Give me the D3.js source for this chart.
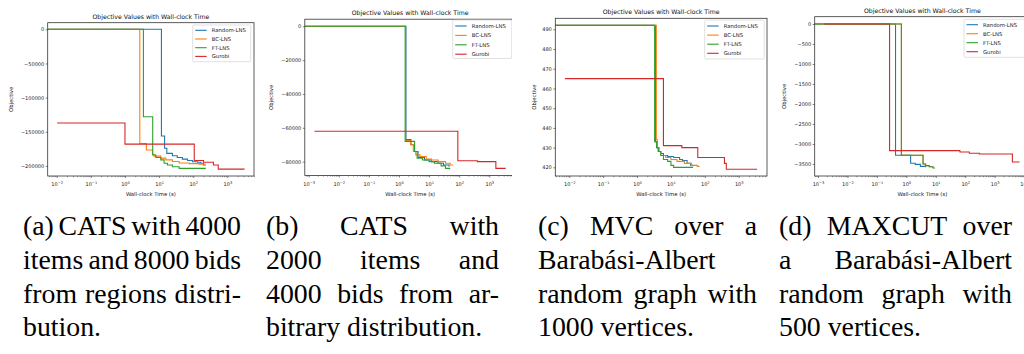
<!DOCTYPE html>
<html><head><meta charset="utf-8">
<script src="https://cdn.jsdelivr.net/npm/d3@7"></script>
<style>body{margin:0;background:#fff}svg{display:block}.cap text{font-family:"Liberation Serif","Times New Roman",serif}</style>
</head><body>
<svg id="chart" width="1024" height="354"></svg>
<script>
const seriesNames = ["Random-LNS", "BC-LNS", "FT-LNS", "Gurobi"];
const seriesColors = ["#1f77b4", "#ff7f0e", "#2ca02c", "#d62728"];
const chartTitle = "Objective Values with Wall-clock Time";
const xLabel = "Wall-clock Time (s)";
const yLabel = "Objective";

// (a) CATS 4000 items / 8000 bids  — [time (s), objective]
const aRandom = [[0,0],[11.7,-156000],[14.5,-174000],[16.8,-181500],[24.5,-185000],[34,-187500],[48,-190000],[68,-192000],[95,-193700],[132,-194600],[166,-196000],[200,-198500],[234,-198500]];
const aBC = [[0,0],[2.72,-167000],[4.25,-176500],[6.37,-183000],[7.1,-185500],[11.2,-188500],[15.7,-191000],[24.5,-193500],[38.5,-195500],[76,-196500],[150,-197500],[230,-197500]];
const aFT = [[0,0],[3.47,-128000],[6.5,-184000],[8,-187500],[11.2,-191000],[14,-196000],[17.5,-198500],[24.5,-201000],[38.5,-203500],[234,-203500]];
const aGurobi = [[0.0103,-137000],[1.0,-168000],[107,-192000],[200,-194500],[390,-198500],[540,-204500],[3200,-204500]];
const aXDomain = [0.00545, 6026];
const aYDomain = [-214630, 9656];
const aXTicks = [1e-2, 1e-1, 1, 1e1, 1e2, 1e3];
const aYTicks = [0, -50000, -100000, -150000, -200000];

// (b) CATS 2000 items / 4000 bids
const bRandom = [[0,0],[1.7,-67000],[2.5,-70000],[3.2,-74000],[4.3,-77500],[7,-79000],[12,-80000],[20,-81000],[30,-82000],[46,-83000]];
const bBC = [[0,0],[1.65,-67500],[2.4,-70000],[3.0,-74000],[3.6,-76000],[5,-77000],[8,-78500],[12,-79000],[20,-80000],[35,-81000],[50,-82000],[63,-82000]];
const bFT = [[0,0],[1.6,-68000],[3.3,-74000],[4,-78000],[6,-79000],[10,-80000],[15,-81000],[25,-82500],[35,-84000],[48,-84500]];
const bGurobi = [[0.00155,-62000],[90,-79500],[400,-80000],[1650,-84000],[3500,-84000]];
const bXDomain = [0.000741, 7413];
const bYDomain = [-88200, 4200];
const bXTicks = [1e-3, 1e-2, 1e-1, 1, 1e1, 1e2, 1e3];
const bYTicks = [0, -20000, -40000, -60000, -80000];

// (c) MVC, Barabási-Albert 1000 vertices
const cRandom = [[0,492],[3.5,433],[3.8,430],[4.3,428],[5,427],[6,426],[8,425.5],[12,425],[18,424],[22,423.5],[30,422],[38,421],[45,420.5]];
const cBC = [[0,492],[3.7,434],[4,430],[4.5,428],[5,426],[7,425],[10,424],[15,423],[25,422],[40,421],[60,420.5],[70,420.5]];
const cFT = [[0,492],[3.3,433],[3.8,430],[4.2,428],[5,426],[6,424],[8,423],[10,421],[12,420],[45,420]];
const cGurobi = [[0.0074,465],[6.0,431],[21,430],[62,425],[380,422],[430,419],[3500,419]];
const cXDomain = [0.003864, 6839];
const cYDomain = [415.6, 495.6];
const cXTicks = [1e-2, 1e-1, 1, 1e1, 1e2, 1e3];
const cYTicks = [420, 430, 440, 450, 460, 470, 480, 490];

// (d) MAXCUT, Barabási-Albert 500 vertices
const dRandom = [[0,0],[0.43,-3280],[1.4,-3480],[2,-3510],[3,-3560],[4.5,-3580]];
const dBC = [[0,0],[0.68,-3280],[3.7,-3500],[4.5,-3540],[6,-3570],[8.5,-3570]];
const dFT = [[0,0],[0.68,-3280],[3.7,-3500],[4.5,-3540],[6,-3570],[8,-3600],[9.5,-3600]];
const dGurobi = [[0.0016,0],[0.27,-3165],[66,-3200],[138,-3230],[300,-3250],[4000,-3450],[7000,-3450]];
const dXDomain = [0.000773, 15849];
const dYDomain = [-3800, 182.5];
const dXTicks = [1e-3, 1e-2, 1e-1, 1, 1e1, 1e2, 1e3, 1e4];
const dYTicks = [0, -500, -1000, -1500, -2000, -2500, -3000, -3500];

// captions
const captionA = ["(a) CATS with 4000", "items and 8000 bids", "from regions distri-", "bution."];
const captionB = ["(b) CATS with", "2000 items and", "4000 bids from ar-", "bitrary distribution."];
const captionC = ["(c) MVC over a", "Barabási-Albert", "random graph with", "1000 vertices."];
const captionD = ["(d) MAXCUT over", "a Barabási-Albert", "random graph with", "500 vertices."];

const panels = [
  {series:[aRandom,aBC,aFT,aGurobi], xDomain:aXDomain, yDomain:aYDomain, xTicks:aXTicks, yTicks:aYTicks, caption:captionA,
   clip:[0,256], left:47.7, right:254, top:22.7, bottom:176, ylabX:11, leg:{x:192.7,y:25,w:58,h:36.7,first:5.3,dy:8.7}, cap:[23,241]},
  {series:[bRandom,bBC,bFT,bGurobi], xDomain:bXDomain, yDomain:bYDomain, xTicks:bXTicks, yTicks:bYTicks, caption:captionB,
   clip:[256,512], left:304.8, right:515.5, top:19.2, bottom:175.5, ylabX:271, leg:{x:452.7,y:20,w:59,h:38.5,first:6,dy:9.4}, cap:[266,499]},
  {series:[cRandom,cBC,cFT,cGurobi], xDomain:cXDomain, yDomain:cYDomain, xTicks:cXTicks, yTicks:cYTicks, caption:captionC,
   clip:[512,768], left:555.3, right:767, top:18.3, bottom:176, ylabX:533.7, leg:{x:704.7,y:20,w:59.6,h:39,first:6,dy:9.1}, cap:[538,757]},
  {series:[dRandom,dBC,dFT,dGurobi], xDomain:dXDomain, yDomain:dYDomain, xTicks:dXTicks, yTicks:dYTicks, caption:captionD,
   clip:[768,1024], left:814.7, right:1030, top:16.7, bottom:176, ylabX:783.7, leg:{x:964,y:19.3,w:62,h:38,first:5.4,dy:9}, cap:[779,1012]}
];

const svg = d3.select("#chart");
const FONT = "DejaVu Sans, sans-serif";
const defs = svg.append("defs");

panels.forEach((p, pi) => {
  const pc = defs.append("clipPath").attr("id", "pc" + pi);
  pc.append("rect").attr("x", p.clip[0]).attr("y", 0).attr("width", p.clip[1] - p.clip[0]).attr("height", 200);
  const fc = defs.append("clipPath").attr("id", "fc" + pi);
  fc.append("rect").attr("x", p.left).attr("y", p.top).attr("width", p.right - p.left).attr("height", p.bottom - p.top);

  const g = svg.append("g").attr("clip-path", `url(#pc${pi})`).style("font-family", FONT);
  const x = d3.scaleLog().domain(p.xDomain).range([p.left, p.right]);
  const y = d3.scaleLinear().domain(p.yDomain).range([p.bottom, p.top]);

  // series
  const line = d3.line()
    .x(d => d[0] <= 0 ? p.left - 5 : x(d[0]))
    .y(d => y(d[1]))
    .curve(d3.curveStepAfter);
  const lg = g.append("g").attr("clip-path", `url(#fc${pi})`);
  p.series.forEach((s, i) => {
    lg.append("path").attr("d", line(s)).attr("fill", "none")
      .attr("stroke", seriesColors[i]).attr("stroke-width", 1.1);
  });

  // frame
  g.append("rect").attr("x", p.left).attr("y", p.top).attr("width", p.right - p.left).attr("height", p.bottom - p.top)
    .attr("fill", "none").attr("stroke", "#333").attr("stroke-width", 0.8);

  // y axis
  const ya = g.append("g").attr("transform", `translate(${p.left},0)`)
    .call(d3.axisLeft(y).tickValues(p.yTicks).tickSize(2).tickSizeOuter(0).tickPadding(1.5).tickFormat(d3.format("d")));
  ya.select(".domain").remove();
  ya.selectAll(".tick line").attr("stroke", "#333").attr("stroke-width", 0.6);
  ya.selectAll(".tick text").attr("font-size", 5).attr("font-family", FONT).attr("fill", "#222");

  // x axis: minor ticks
  const lo = Math.floor(Math.log10(p.xDomain[0])), hi = Math.ceil(Math.log10(p.xDomain[1]));
  const minor = [];
  for (let k = lo; k <= hi; k++) for (let m = 2; m <= 9; m++) {
    const v = m * Math.pow(10, k);
    if (v > p.xDomain[0] && v < p.xDomain[1]) minor.push(v);
  }
  const xm = g.append("g").attr("transform", `translate(0,${p.bottom})`)
    .call(d3.axisBottom(x).tickValues(minor).tickSize(1.2).tickSizeOuter(0).tickFormat(""));
  xm.select(".domain").remove();
  xm.selectAll(".tick line").attr("stroke", "#333").attr("stroke-width", 0.5);

  const xa = g.append("g").attr("transform", `translate(0,${p.bottom})`)
    .call(d3.axisBottom(x).tickValues(p.xTicks).tickSize(2).tickSizeOuter(0).tickPadding(2.5).tickFormat(""));
  xa.select(".domain").remove();
  xa.selectAll(".tick line").attr("stroke", "#333").attr("stroke-width", 0.6);
  xa.selectAll(".tick").each(function(d) {
    const e = Math.round(Math.log10(d));
    const t = d3.select(this).append("text").attr("y", 10.3).attr("fill", "#222")
      .attr("text-anchor", "middle").attr("font-size", 5).attr("font-family", FONT);
    t.append("tspan").text("10");
    t.append("tspan").attr("dy", -2.2).attr("font-size", 3.6).text(e < 0 ? "\u2212" + (-e) : String(e));
  });

  const cx = (p.left + p.right) / 2;
  g.append("text").attr("x", cx).attr("y", p.top - 4.2).attr("text-anchor", "middle")
    .attr("font-size", 6.2).attr("fill", "#111").text(chartTitle);
  g.append("text").attr("x", cx).attr("y", 195.8).attr("text-anchor", "middle")
    .attr("font-size", 5.3).attr("fill", "#111").text(xLabel);
  g.append("text").attr("transform", `translate(${p.ylabX + 1.8},${(p.top + p.bottom) / 2}) rotate(-90)`)
    .attr("text-anchor", "middle").attr("font-size", 5.3).attr("fill", "#111").text(yLabel);

  // legend
  const L = p.leg;
  const leg = g.append("g");
  leg.append("rect").attr("x", L.x).attr("y", L.y).attr("width", L.w).attr("height", L.h).attr("rx", 1.5)
    .attr("fill", "#fff").attr("fill-opacity", 0.8).attr("stroke", "#ccc").attr("stroke-width", 0.6);
  seriesNames.forEach((n, i) => {
    const yy = L.y + L.first + i * L.dy;
    leg.append("line").attr("x1", L.x + 2.5).attr("x2", L.x + 14).attr("y1", yy).attr("y2", yy)
      .attr("stroke", seriesColors[i]).attr("stroke-width", 1.1);
    leg.append("text").attr("x", L.x + 19).attr("y", yy + 1.8).attr("font-size", 5.3).attr("fill", "#222").text(n);
  });

  // caption (justified like LaTeX, last line ragged)
  const capG = svg.append("g").attr("class", "cap").attr("font-size", 27.8).attr("fill", "#000");
  const [x0, x1] = p.cap;
  p.caption.forEach((ln, li) => {
    const yy = 235 + li * 33.8;
    const words = ln.split(" ");
    const last = li === p.caption.length - 1;
    if (last || words.length === 1) {
      capG.append("text").attr("x", x0).attr("y", yy).text(ln);
      return;
    }
    const nodes = words.map(w => capG.append("text").attr("y", yy).text(w));
    const widths = nodes.map(n => n.node().getComputedTextLength());
    const total = d3.sum(widths);
    const gap = Math.max(1.5, (x1 - x0 - total) / (words.length - 1));
    let cur = x0;
    nodes.forEach((n, k) => { n.attr("x", cur); cur += widths[k] + gap; });
  });
});
</script>
</body></html>
